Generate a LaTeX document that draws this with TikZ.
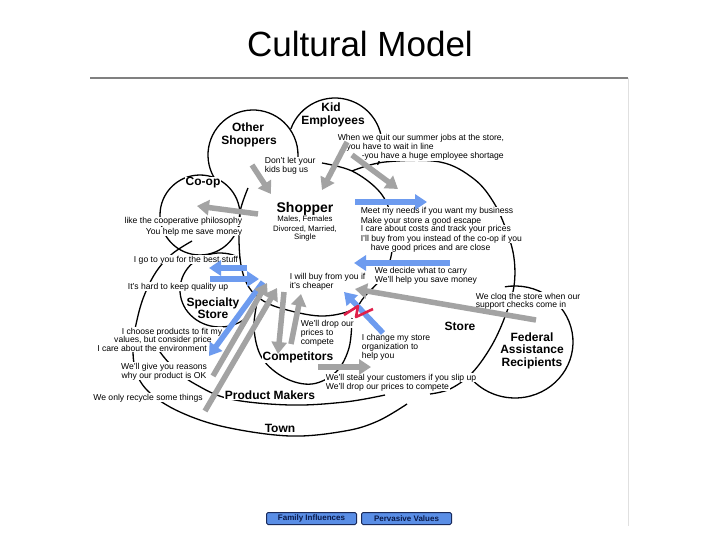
\documentclass[tikz,border=0pt]{standalone}
\usepackage{fontspec}
\setmainfont{Liberation Sans}
\usetikzlibrary{arrows.meta}
\definecolor{garrow}{HTML}{A3A3A3}
\definecolor{barrow}{HTML}{6D9BEF}
\definecolor{zigred}{HTML}{E0204A}
\definecolor{btnfill}{HTML}{5A8EE6}
\definecolor{btnline}{HTML}{1A2A5A}
\definecolor{btntext}{HTML}{0A1A4A}
\begin{document}
\begin{tikzpicture}[x=1pt,y=-1pt,
  curve/.style={line width=1.3pt, black},
  garr/.style={line width=5.5pt, garrow, -{Triangle[length=12pt,width=15pt]}},
  barr/.style={line width=5.5pt, barrow, -{Triangle[length=12pt,width=15pt]}},
  small/.style={font=\fontsize{8.6}{9}\selectfont, inner sep=0.6pt, fill=white, anchor=base west},
  smallc/.style={small, anchor=base},
  smalle/.style={small, anchor=base east},
  lab/.style={font=\fontsize{12}{13}\selectfont\bfseries, inner sep=1pt, fill=white, anchor=base},
  sublab/.style={font=\fontsize{7.8}{8}\selectfont, inner sep=0.5pt, fill=white, anchor=base},
  btn/.style={draw=btnline, fill=btnfill, line width=1pt, rounded corners=1.5pt, minimum width=90pt, minimum height=12pt, inner sep=0pt, font=\fontsize{8}{9}\selectfont\bfseries, text=btntext},
]
\fill[white] (0,0) rectangle (720,540);
\useasboundingbox (0,0) rectangle (720,540);

% title and rules
\node[font=\fontsize{35}{40}\selectfont, anchor=base, inner sep=0pt] (title) at (360,57) {Cultural Model};
\draw[line width=1.5pt, black!50] (90,78) -- (628,78);
\draw[line width=0.8pt, black!12] (628,78) -- (628,526);

% region outlines
\draw[curve] ([shift={(210:45pt)}]253,155) arc[start angle=210, end angle=-20, radius=45pt];
\draw[curve] ([shift={(160:47pt)}]335,145) arc[start angle=160, end angle=-25, radius=47pt];
\draw[curve] (200,215) circle[radius=40pt];
\draw[curve] ([shift={(60:40pt and 37pt)}]220,290) arc[start angle=60, end angle=325, x radius=40pt, y radius=37pt];
\draw[curve] plot[smooth, tension=0.6] coordinates {(258,298) (254,328) (262,358) (285,378) (312,384) (336,372) (349,348) (352,318)};
\draw[curve] plot[smooth, tension=0.6] coordinates {(248,188) (240,212) (239,240) (241,265) (247,284) (259,298) (280,308) (320,316) (352,310) (365,296) (380,280) (389,264) (393,240) (390,212) (378,190) (352,171) (322,163)};
\draw[curve] plot[smooth, tension=0.6] coordinates {(352,171) (385,162) (440,162) (474,179) (494,203) (507,232) (514,258) (514,286) (506,314) (492,345) (472,373) (450,389) (430,394)};
\draw[curve] ([shift={(100:58pt and 56pt)}]515,342) arc[start angle=100, end angle=-140, x radius=58pt, y radius=56pt];
\draw[curve] plot[smooth, tension=0.6] coordinates {(192,241) (172,254) (156,272) (144,296) (137,320) (133,345) (136,372) (150,393) (180,412) (225,427) (290,436) (345,431) (378,421) (407,404)};
\draw[curve] plot[smooth, tension=0.6] coordinates {(150,335) (160,352) (175,369) (195,384) (230,399) (290,405) (345,402) (385,395)};

% region labels
\node[lab] (kid1) at (331,112) {Kid};
\node[lab] (kid2) at (333,125) {Employees};
\node[lab] (oth1) at (248,132) {Other};
\node[lab] (oth2) at (249,145) {Shoppers};
\node[lab] (coop) at (203,186) {Co-op};
\node[lab, font=\fontsize{14}{15}\selectfont\bfseries] (shopper) at (305,212) {Shopper};
\node[sublab] (sh1) at (305,222) {Males, Females};
\node[sublab] (sh2) at (305,231) {Divorced, Married,};
\node[sublab] (sh3) at (305,240) {Single};
\node[lab] (spec1) at (213,306) {Specialty};
\node[lab] (spec2) at (213,318) {Store};
\node[lab] (comp) at (298,360) {Competitors};
\node[lab] (pm) at (270,399) {Product Makers};
\node[lab] (town) at (280,432) {Town};
\node[lab] (store) at (460,330) {Store};
\node[lab] (fed1) at (532,341) {Federal};
\node[lab] (fed2) at (532,353) {Assistance};
\node[lab] (fed3) at (532,366) {Recipients};

% messages
\node[small] (t1a) at (264,164) {Don't let your};
\node[small] (t1b) at (264,173) {kids bug us};
\node[small] (t2a) at (337,141) {When we quit our summer jobs at the store,};
\node[small] (t2b) at (343,150) {-you have to wait in line};
\node[small] (t2c) at (361,159) {-you have a huge employee shortage};
\node[small] (t3a) at (360,214) {Meet my needs if you want my business};
\node[small] (t3b) at (360,223) {Make your store a good escape};
\node[small] (t3c) at (360,232) {I care about costs and track your prices};
\node[small] (t3d) at (360,241) {I'll buy from you instead of the co-op if you};
\node[small] (t3e) at (370,250) {have good prices and are close};
\node[small] (t4a) at (374,273) {We decide what to carry};
\node[small] (t4b) at (374,282) {We'll help you save money};
\node[small] (t5a) at (475,299) {We clog the store when our};
\node[small] (t5b) at (475,307) {support checks come in};
\node[small] (t6a) at (361,340) {I change my store};
\node[small] (t6b) at (361,349) {organization to};
\node[small] (t6c) at (361,358) {help you};
\node[small] (t7a) at (325,380) {We'll steal your customers if you slip up};
\node[small] (t7b) at (325,389) {We'll drop our prices to compete};
\node[small] (t8a) at (300,326) {We'll drop our};
\node[small] (t8b) at (300,335) {prices to};
\node[small] (t8c) at (300,344) {compete};
\node[small] (t9a) at (289,279) {I will buy from you if};
\node[small] (t9b) at (289,288) {it's cheaper};
\node[smalle] (t10a) at (243,224) {like the cooperative philosophy};
\node[smalle] (t10b) at (243,234) {You help me save money};
\node[smallc] (t11) at (186,262) {I go to you for the best stuff};
\node[smallc] (t12) at (178,289) {It's hard to keep quality up};
\node[smallc] (t13a) at (172,334) {I choose products to fit my};
\node[smallc] (t13b) at (163,342) {values, but consider price};
\node[smallc] (t13c) at (152,351) {I care about the environment};
\node[smallc] (t14a) at (164,369) {We'll give you reasons};
\node[smallc] (t14b) at (164,378) {why our product is OK};
\node[smallc] (t15) at (148,400) {We only recycle some things};

% influence arrows
\draw[garr] (252,165) -- (271,194);
\draw[garr] (347,142) -- (322,190);
\draw[garr] (352,155) -- (398,189);
\draw[garr] (258,214) -- (197,206);
\draw[barr] (355,202) -- (427,202);
\draw[barr] (450,263) -- (354,263);
\draw[garr] (536,320) -- (355,289);
\draw[barr] (383,333) -- (344,292);
\draw[barr] (247,268) -- (209,268);
\draw[barr] (210,279) -- (259,279);
\draw[barr] (263,282) -- (209,356);
\draw[garr] (213,376) -- (267,283);
\draw[garr] (205,411) -- (277,288);
\draw[garr] (284,292) -- (278,354);
\draw[garr] (291,344) -- (301,294);
\draw[garr] (318,367) -- (371,367);
\draw[zigred, line width=2.6pt, line join=round] (344,315) -- (358,306) -- (356,317) -- (373,309);

% buttons
\node[btn] (fam) at (311.5,518.5) {Family Influences};
\node[btn] (perv) at (406.5,518.5) {Pervasive Values};
\end{tikzpicture}
\end{document}
